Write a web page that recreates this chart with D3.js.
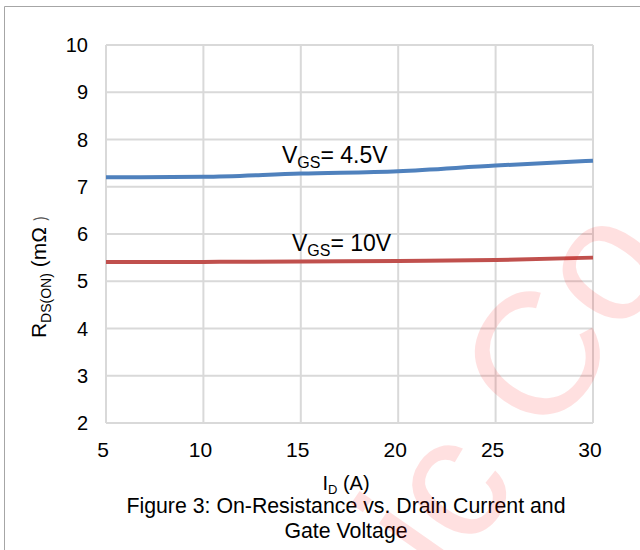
<!DOCTYPE html>
<html>
<head>
<meta charset="utf-8">
<script src="https://cdn.jsdelivr.net/npm/d3@7"></script>
<style>
  body { margin: 0; background: #fff; }
  svg { font-family: "Liberation Sans", Arial, sans-serif; }
</style>
</head>
<body>
<svg id="chart" width="640" height="550"></svg>
<script>
// drain current (A) and on-resistance (mOhm)
let currents = [5, 10, 15, 20, 25, 30]
let rdsVgs45 = [7.20, 7.21, 7.28, 7.33, 7.45, 7.55]
let rdsVgs10 = [5.41, 5.41, 5.42, 5.43, 5.45, 5.50]
let xTicks = [5, 10, 15, 20, 25, 30]
let yTicks = [2, 3, 4, 5, 6, 7, 8, 9, 10]

let svg = d3.select("#chart")

// outer frame (left + top edge of the page box)
svg.append("line").attr("x1", 4.5).attr("x2", 4.5).attr("y1", 6.5).attr("y2", 550)
    .attr("stroke", "#a6a6a6")
svg.append("line").attr("x1", 4.5).attr("x2", 640).attr("y1", 6.5).attr("y2", 6.5)
    .attr("stroke", "#a6a6a6")

let plotLeft = 106, plotRight = 593, plotTop = 45, plotBottom = 423

let xScale = d3.scaleLinear().domain([5, 30]).range([plotLeft, plotRight])
let yScale = d3.scaleLinear().domain([2, 10]).range([plotBottom, plotTop])

// grid
svg.append("g")
    .selectAll("line")
    .data(xTicks)
    .join("line")
    .attr("x1", d => xScale(d)).attr("x2", d => xScale(d))
    .attr("y1", plotTop).attr("y2", plotBottom)
    .attr("stroke", "#d9d9d9").attr("stroke-width", 2)
svg.append("g")
    .selectAll("line")
    .data(yTicks)
    .join("line")
    .attr("x1", plotLeft).attr("x2", plotRight)
    .attr("y1", d => yScale(d)).attr("y2", d => yScale(d))
    .attr("stroke", "#d9d9d9").attr("stroke-width", 2)

// tick labels
svg.append("g")
    .selectAll("text")
    .data(yTicks)
    .join("text")
    .attr("x", plotLeft - 18)
    .attr("y", d => yScale(d))
    .attr("dy", "0.35em")
    .attr("text-anchor", "end")
    .style("font-size", "20px")
    .attr("fill", "#000")
    .text(d => d)
svg.append("g")
    .selectAll("text")
    .data(xTicks)
    .join("text")
    .attr("x", d => xScale(d) - 3)
    .attr("y", plotBottom + 34)
    .attr("text-anchor", "middle")
    .style("font-size", "21px")
    .attr("fill", "#000")
    .text(d => d)

// curves
let line = d3.line()
    .x((d, i) => xScale(currents[i]))
    .y(d => yScale(d))
    .curve(d3.curveMonotoneX)

svg.append("path").attr("d", line(rdsVgs45))
    .attr("fill", "none").attr("stroke", "#4f81bd").attr("stroke-width", 4)
svg.append("path").attr("d", line(rdsVgs10))
    .attr("fill", "none").attr("stroke", "#c0504d").attr("stroke-width", 4)

// series labels
function vgsLabel(x, y, txt) {
    let t = svg.append("text").attr("x", x).attr("y", y)
        .style("font-size", "23px").attr("fill", "#000")
    t.append("tspan").text("V")
    t.append("tspan").attr("dy", 5).style("font-size", "16px").text("GS")
    t.append("tspan").attr("dy", -5).text(txt)
}
vgsLabel(282, 163, "= 4.5V")
vgsLabel(292, 251, "= 10V")

// y axis title
let yt = svg.append("text")
    .attr("transform", "translate(46,277) rotate(-90)")
    .attr("text-anchor", "middle")
    .style("font-size", "21px")
    .attr("fill", "#000")
yt.append("tspan").text("R")
yt.append("tspan").attr("dy", 5).style("font-size", "14px").text("DS(ON)")
yt.append("tspan").attr("dy", -5).text(" (mΩ ")
yt.append("tspan").style("font-family", "'Noto Sans CJK SC'").style("font-size", "16px")
    .attr("fill", "#555").text(")")

// x axis title
let xt = svg.append("text")
    .attr("x", 346).attr("y", 490)
    .attr("text-anchor", "middle")
    .style("font-size", "20px")
    .attr("fill", "#000")
xt.append("tspan").text("I")
xt.append("tspan").attr("dy", 4).style("font-size", "13px").text("D")
xt.append("tspan").attr("dy", -4).text(" (A)")

// caption
svg.append("text").attr("x", 346).attr("y", 513).attr("text-anchor", "middle")
    .style("font-size", "21.3px").attr("fill", "#000")
    .text("Figure 3: On-Resistance vs. Drain Current and")
svg.append("text").attr("x", 346).attr("y", 538).attr("text-anchor", "middle")
    .style("font-size", "21.3px").attr("fill", "#000")
    .text("Gate Voltage")

// faint watermark over the plot
svg.append("text")
    .attr("transform", "translate(448,586) rotate(-55)")
    .style("font-size", "175px")
    .attr("fill", "#ff0000")
    .attr("fill-opacity", 0.12)
    .text("ic Co")
</script>
</body>
</html>
